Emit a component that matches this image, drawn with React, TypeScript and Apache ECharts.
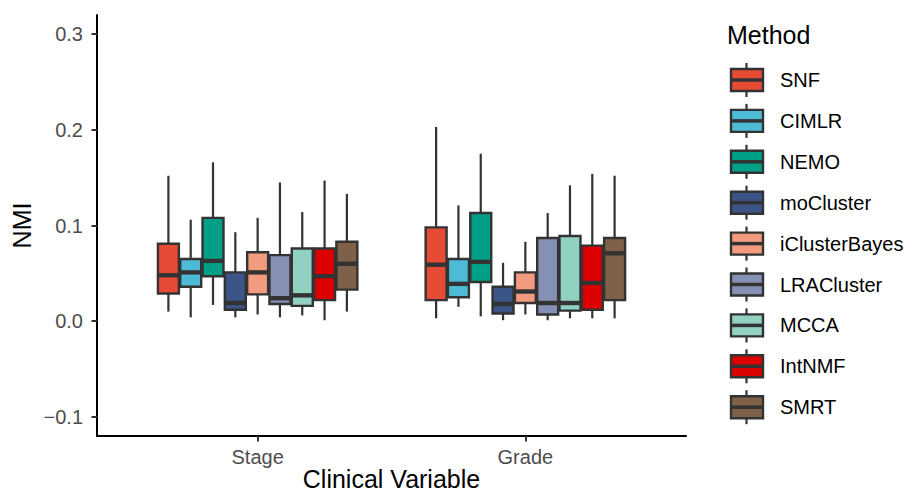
import React, { useEffect, useRef } from "react";
import * as echarts from "echarts";

const categories = ["Stage", "Grade"];
const methods = ["SNF", "CIMLR", "NEMO", "moCluster", "iClusterBayes", "LRACluster", "MCCA", "IntNMF", "SMRT"];
const colors = ["#E64B35", "#4DBBD5", "#00A087", "#3C5488", "#F39B7F", "#8491B4", "#91D1C2", "#DC0000", "#7E6148"];
const yTicks = [-0.1, 0.0, 0.1, 0.2, 0.3];

// [low whisker, q1, median, q3, high whisker] per category (Stage, Grade)
const SNF = [[0.010, 0.029, 0.048, 0.081, 0.152], [0.003, 0.022, 0.059, 0.098, 0.203]];
const CIMLR = [[0.004, 0.036, 0.051, 0.065, 0.106], [0.015, 0.025, 0.039, 0.065, 0.121]];
const NEMO = [[0.017, 0.047, 0.063, 0.108, 0.166], [0.005, 0.041, 0.062, 0.113, 0.175]];
const moCluster = [[0.004, 0.012, 0.019, 0.051, 0.093], [0.001, 0.008, 0.018, 0.036, 0.061]];
const iClusterBayes = [[0.007, 0.028, 0.051, 0.072, 0.108], [0.007, 0.019, 0.031, 0.051, 0.083]];
const LRACluster = [[0.004, 0.018, 0.024, 0.069, 0.145], [0.001, 0.007, 0.019, 0.087, 0.113]];
const MCCA = [[0.006, 0.016, 0.027, 0.076, 0.114], [0.003, 0.011, 0.019, 0.089, 0.142]];
const IntNMF = [[0.001, 0.022, 0.047, 0.076, 0.147], [0.003, 0.012, 0.040, 0.079, 0.154]];
const SMRT = [[0.010, 0.033, 0.060, 0.083, 0.133], [0.003, 0.022, 0.071, 0.087, 0.152]];

const seriesValues = [SNF, CIMLR, NEMO, moCluster, iClusterBayes, LRACluster, MCCA, IntNMF, SMRT];

const FONT = "'Liberation Sans', Arial, Helvetica, sans-serif";
const EDGE = "#333333";
const DODGE = 0.75;
const SLOT = DODGE / methods.length;
const BOX_W = SLOT * 0.94;

export default function App() {
  const ref = useRef<HTMLDivElement>(null);

  useEffect(() => {
    if (!ref.current) return;
    const chart = echarts.init(ref.current, null, { renderer: "svg" });

    const series = methods.map((m, mi) => ({
      name: m,
      type: "custom",
      renderItem: (params: any, api: any) => {
        const x = api.value(0);
        const pLow = api.coord([x, api.value(1)]);
        const pQ1 = api.coord([x, api.value(2)]);
        const pMed = api.coord([x, api.value(3)]);
        const pQ3 = api.coord([x, api.value(4)]);
        const pHigh = api.coord([x, api.value(5)]);
        const hw = api.size([BOX_W, 0])[0] / 2;
        const cx = pMed[0];
        return {
          type: "group",
          children: [
            { type: "line", shape: { x1: cx, y1: pQ3[1], x2: cx, y2: pHigh[1] }, style: { stroke: EDGE, lineWidth: 2.2 } },
            { type: "line", shape: { x1: cx, y1: pLow[1], x2: cx, y2: pQ1[1] }, style: { stroke: EDGE, lineWidth: 2.2 } },
            {
              type: "rect",
              shape: { x: cx - hw, y: pQ3[1], width: hw * 2, height: pQ1[1] - pQ3[1] },
              style: { fill: colors[mi], stroke: EDGE, lineWidth: 2.4 },
            },
            { type: "line", shape: { x1: cx - hw, y1: pMed[1], x2: cx + hw, y2: pMed[1] }, style: { stroke: EDGE, lineWidth: 4.4 } },
          ],
        };
      },
      encode: { x: 0, y: [1, 2, 3, 4, 5] },
      data: categories.map((c, ci) => {
        const xpos = ci + 1 + (mi - (methods.length - 1) / 2) * SLOT;
        return [xpos, ...seriesValues[mi][ci]];
      }),
    }));

    const legendTop = 80;
    const legendStep = 40.9;
    const legendGraphics: any[] = [
      {
        type: "text",
        left: 727,
        top: 22,
        style: { text: "Method", fontSize: 25, fontFamily: FONT, fill: "#000" },
      },
    ];
    methods.forEach((m, i) => {
      const cy = legendTop + i * legendStep;
      legendGraphics.push(
        { type: "line", shape: { x1: 746.5, y1: cy - 17, x2: 746.5, y2: cy - 11 }, style: { stroke: EDGE, lineWidth: 2.2 } },
        { type: "line", shape: { x1: 746.5, y1: cy + 11, x2: 746.5, y2: cy + 17 }, style: { stroke: EDGE, lineWidth: 2.2 } },
        { type: "rect", shape: { x: 731, y: cy - 11, width: 32, height: 22 }, style: { fill: colors[i], stroke: EDGE, lineWidth: 2.4 } },
        { type: "line", shape: { x1: 731, y1: cy, x2: 763, y2: cy }, style: { stroke: EDGE, lineWidth: 3.5 } },
        {
          type: "text",
          x: 780,
          y: cy,
          style: { text: m, fontSize: 20, fontFamily: FONT, fill: "#000", verticalAlign: "middle", align: "left" },
        }
      );
    });

    chart.setOption({
      animation: false,
      backgroundColor: "#ffffff",
      grid: { left: 97, right: 227, top: 15, bottom: 59, containLabel: false, outerBoundsMode: "none" },
      xAxis: {
        type: "value",
        min: 0.4,
        max: 2.6,
        name: "Clinical Variable",
        nameLocation: "middle",
        nameGap: 30,
        nameMoveOverlap: false,
        nameTextStyle: { fontSize: 25, fontFamily: FONT, color: "#000" },
        splitLine: { show: false },
        axisLine: { show: true, onZero: false, lineStyle: { color: "#000", width: 2 } },
        axisTick: { show: true, customValues: [1, 2], length: 5.5, lineStyle: { color: EDGE, width: 2 } },
        axisLabel: {
          customValues: [1, 2],
          formatter: (v: number) => categories[Math.round(v) - 1] ?? "",
          fontSize: 20,
          fontFamily: FONT,
          color: "#4D4D4D",
          margin: 11,
        },
      },
      yAxis: {
        type: "value",
        min: -0.12,
        max: 0.32,
        name: "NMI",
        nameLocation: "middle",
        nameGap: 63,
        nameMoveOverlap: false,
        nameTextStyle: { fontSize: 25, fontFamily: FONT, color: "#000" },
        splitLine: { show: false },
        axisLine: { show: true, onZero: false, lineStyle: { color: "#000", width: 2 } },
        axisTick: { show: true, customValues: yTicks, length: 5.5, lineStyle: { color: EDGE, width: 2 } },
        axisLabel: {
          customValues: yTicks,
          formatter: (v: number) => (v < 0 ? "\u2212" + Math.abs(v).toFixed(1) : v.toFixed(1)),
          fontSize: 20,
          fontFamily: FONT,
          color: "#4D4D4D",
          margin: 14,
        },
      },
      graphic: legendGraphics,
      series,
    });

    return () => chart.dispose();
  }, []);

  return (
    <div
      ref={ref}
      style={{ position: "fixed", left: 0, top: 0, width: 913, height: 495, background: "#fff" }}
    />
  );
}
